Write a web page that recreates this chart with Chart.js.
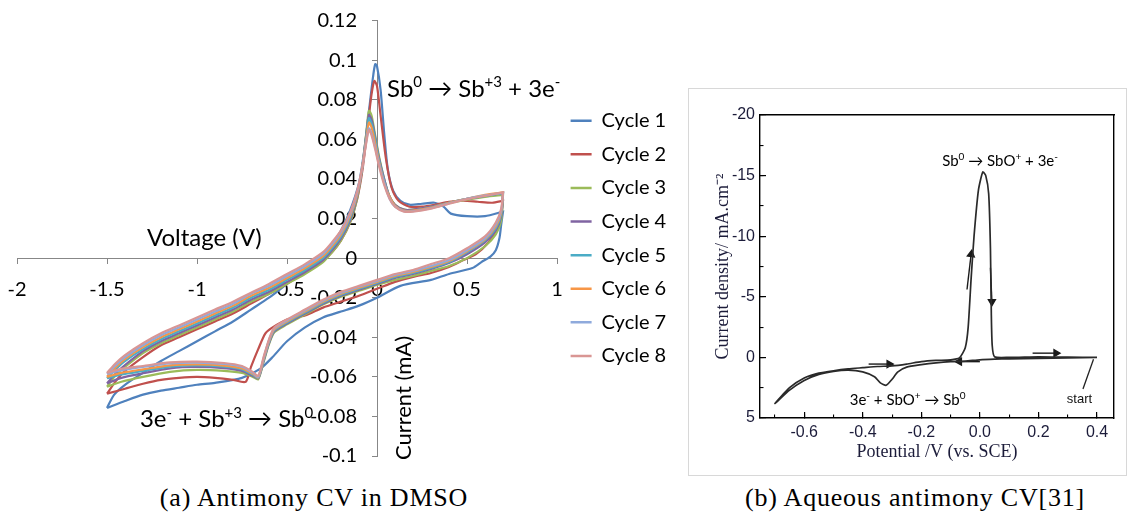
<!DOCTYPE html>
<html><head><meta charset="utf-8">
<script src="https://cdn.jsdelivr.net/npm/chart.js@4.4.1/dist/chart.umd.min.js"></script>
<style>
html,body{margin:0;padding:0;background:#fff;width:1128px;height:512px;overflow:hidden;position:relative}
#wa{position:absolute;left:0;top:0;width:680px;height:480px}
#wb{position:absolute;left:690px;top:90px;width:437px;height:384px}
#frameB{position:absolute;left:688px;top:88px;width:439px;height:388px;border:1px solid #d8d8d8;box-sizing:border-box}
.cap{position:absolute;top:483px;font-family:"Liberation Serif",serif;font-size:26px;letter-spacing:0.8px;color:#000;white-space:nowrap;transform:translateX(-50%)}
</style></head>
<body>
<div id="frameB"></div>
<div id="wa"><canvas id="ca"></canvas></div>
<div id="wb"><canvas id="cb"></canvas></div>
<div class="cap" style="left:314px">(a) Antimony CV in DMSO</div>
<div class="cap" style="left:915px">(b) Aqueous antimony CV[31]</div>
<script>
// ---------- Panel (a): Antimony CV in DMSO ----------
const cycleLabels = ['Cycle 1','Cycle 2','Cycle 3','Cycle 4','Cycle 5','Cycle 6','Cycle 7','Cycle 8'];
const cycleColors = ['#4F81BD','#C0504D','#9BBB59','#8064A2','#4BACC6','#F79646','#8FAADC','#D99694'];

// Cycle 1 voltage (V) / current (mA)
const cycle1V = [-1.50,-1.46,-1.40,-1.30,-1.20,-1.10,-1.00,-0.90,-0.80,-0.70,-0.60,-0.50,-0.40,-0.30,-0.25,-0.20,-0.15,-0.10,-0.07,-0.04,-0.02,-0.01,0.00,0.02,0.04,0.06,0.09,0.13,0.18,0.25,0.32,0.37,0.41,0.50,0.60,0.70,
  0.70,0.69,0.68,0.66,0.63,0.58,0.53,0.40,0.30,0.13,0.00,-0.10,-0.20,-0.30,-0.40,-0.50,-0.58,-0.65,-0.75,-0.90,-1.00,-1.10,-1.20,-1.30,-1.40,-1.50];
const cycle1I = [-0.0757,-0.069,-0.064,-0.058,-0.052,-0.047,-0.042,-0.037,-0.032,-0.026,-0.020,-0.013,-0.006,0.002,0.007,0.014,0.024,0.038,0.055,0.078,0.093,0.098,0.097,0.085,0.063,0.045,0.034,0.029,0.027,0.0275,0.028,0.026,0.0225,0.0212,0.0212,0.0235,
  0.0235,0.017,0.010,0.004,0.0008,-0.002,-0.005,-0.008,-0.011,-0.014,-0.020,-0.024,-0.027,-0.030,-0.035,-0.042,-0.050,-0.056,-0.0605,-0.063,-0.064,-0.0655,-0.067,-0.069,-0.0722,-0.0757];

// Cycle 2
const cycle2V = [-1.50,-1.45,-1.40,-1.30,-1.20,-1.10,-1.00,-0.90,-0.80,-0.70,-0.60,-0.50,-0.40,-0.30,-0.25,-0.20,-0.15,-0.11,-0.08,-0.05,-0.03,-0.015,0.00,0.02,0.05,0.08,0.12,0.18,0.25,0.32,0.40,0.48,0.56,0.64,0.70,
  0.70,0.69,0.66,0.62,0.55,0.48,0.40,0.30,0.20,0.10,0.00,-0.10,-0.20,-0.30,-0.40,-0.50,-0.58,-0.62,-0.66,-0.70,-0.73,-0.80,-0.90,-1.00,-1.10,-1.20,-1.30,-1.40,-1.50];
const cycle2I = [-0.0685,-0.062,-0.057,-0.050,-0.044,-0.040,-0.036,-0.032,-0.028,-0.023,-0.018,-0.013,-0.007,-0.001,0.003,0.009,0.018,0.030,0.045,0.068,0.083,0.0895,0.087,0.072,0.050,0.036,0.029,0.026,0.026,0.027,0.0285,0.029,0.0285,0.028,0.029,
  0.029,0.022,0.014,0.008,0.002,-0.001,-0.0045,-0.0075,-0.0095,-0.012,-0.0155,-0.019,-0.022,-0.025,-0.029,-0.031,-0.035,-0.038,-0.046,-0.055,-0.0625,-0.0615,-0.0605,-0.0600,-0.0605,-0.0615,-0.0635,-0.066,-0.0685];

// Cycles 3-8 share one voltage sweep
const scanV = [-1.50,-1.45,-1.40,-1.30,-1.20,-1.10,-1.00,-0.90,-0.80,-0.70,-0.60,-0.50,-0.40,-0.30,-0.25,-0.20,-0.15,-0.11,-0.08,-0.06,-0.045,-0.03,-0.01,0.01,0.04,0.07,0.10,0.15,0.20,0.30,0.40,0.50,0.60,0.70,
  0.70,0.69,0.66,0.60,0.50,0.40,0.30,0.20,0.10,0.00,-0.10,-0.20,-0.30,-0.40,-0.50,-0.57,-0.60,-0.63,-0.66,-0.69,-0.75,-0.85,-1.00,-1.15,-1.30,-1.42,-1.50];
const cycle3I = [-0.0650,-0.059,-0.055,-0.048,-0.043,-0.039,-0.035,-0.031,-0.027,-0.022,-0.018,-0.013,-0.008,-0.002,0.003,0.009,0.018,0.030,0.047,0.063,0.0745,0.072,0.062,0.052,0.040,0.031,0.027,0.0245,0.0245,0.026,0.028,0.0295,0.031,0.032,
  0.032,0.019,0.012,0.006,0.000,-0.004,-0.0065,-0.009,-0.011,-0.0135,-0.0165,-0.0195,-0.0235,-0.0285,-0.0335,-0.0375,-0.0435,-0.0525,-0.0612,-0.0600,-0.0580,-0.0570,-0.0565,-0.0575,-0.0600,-0.0625,-0.0650];
const cycle4I = [-0.0633,-0.058,-0.054,-0.047,-0.042,-0.038,-0.034,-0.030,-0.026,-0.021,-0.017,-0.012,-0.007,-0.001,0.004,0.010,0.019,0.031,0.047,0.062,0.0724,0.070,0.061,0.051,0.040,0.031,0.027,0.0245,0.0245,0.026,0.028,0.030,0.0315,0.0328,
  0.0328,0.021,0.014,0.008,0.002,-0.0025,-0.0055,-0.008,-0.010,-0.013,-0.016,-0.019,-0.023,-0.028,-0.033,-0.037,-0.043,-0.052,-0.0608,-0.0595,-0.0570,-0.0556,-0.0550,-0.0557,-0.0582,-0.0605,-0.0633];
const cycle5I = [-0.0607,-0.056,-0.052,-0.046,-0.041,-0.037,-0.033,-0.029,-0.025,-0.020,-0.016,-0.011,-0.006,0.000,0.005,0.011,0.020,0.032,0.047,0.061,0.0707,0.068,0.060,0.050,0.039,0.031,0.0265,0.024,0.024,0.0255,0.028,0.030,0.0315,0.033,
  0.033,0.022,0.015,0.009,0.003,-0.002,-0.005,-0.0075,-0.0095,-0.0125,-0.0155,-0.0185,-0.0225,-0.0275,-0.0325,-0.0365,-0.0425,-0.0515,-0.0605,-0.0590,-0.0562,-0.0548,-0.0542,-0.0548,-0.0570,-0.0588,-0.0607];
const cycle6I = [-0.0600,-0.055,-0.051,-0.045,-0.040,-0.036,-0.032,-0.028,-0.024,-0.019,-0.015,-0.010,-0.005,0.001,0.006,0.012,0.021,0.032,0.047,0.060,0.0685,0.066,0.058,0.049,0.038,0.031,0.0265,0.024,0.024,0.0255,0.028,0.030,0.032,0.0332,
  0.0332,0.023,0.016,0.0095,0.0035,-0.0015,-0.0045,-0.007,-0.009,-0.012,-0.015,-0.018,-0.022,-0.027,-0.032,-0.036,-0.042,-0.051,-0.0603,-0.0585,-0.0558,-0.0543,-0.0537,-0.0542,-0.0562,-0.0580,-0.0600];
const cycle7I = [-0.0585,-0.054,-0.050,-0.044,-0.039,-0.035,-0.031,-0.027,-0.023,-0.018,-0.014,-0.009,-0.004,0.002,0.007,0.013,0.022,0.033,0.047,0.059,0.0656,0.063,0.056,0.048,0.038,0.030,0.026,0.0237,0.0237,0.0252,0.0277,0.0300,0.0317,0.0330,
  0.0330,0.024,0.017,0.010,0.004,-0.001,-0.004,-0.0065,-0.0085,-0.0115,-0.0145,-0.0175,-0.0215,-0.0265,-0.0315,-0.0355,-0.0415,-0.0505,-0.0600,-0.0580,-0.0550,-0.0535,-0.0528,-0.0532,-0.0550,-0.0567,-0.0585];
const cycle8I = [-0.058,-0.053,-0.049,-0.043,-0.038,-0.034,-0.030,-0.026,-0.022,-0.0175,-0.013,-0.008,-0.003,0.003,0.008,0.014,0.023,0.034,0.047,0.058,0.0648,0.062,0.055,0.047,0.037,0.030,0.026,0.0235,0.0235,0.0250,0.0275,0.0298,0.0315,0.0332,
  0.0332,0.025,0.018,0.011,0.005,0.000,-0.003,-0.006,-0.008,-0.011,-0.014,-0.017,-0.021,-0.026,-0.031,-0.035,-0.041,-0.050,-0.0595,-0.0575,-0.0545,-0.0530,-0.0523,-0.0527,-0.0545,-0.0560,-0.0580];

const cycleV = [cycle1V, cycle2V, scanV, scanV, scanV, scanV, scanV, scanV];
const cycleI = [cycle1I, cycle2I, cycle3I, cycle4I, cycle5I, cycle6I, cycle7I, cycle8I];

// ---------- Panel (b): aqueous antimony CV ----------
const aqV = [0.40,0.30,0.20,0.10,0.05,0.00,-0.05,-0.10,-0.15,-0.20,-0.25,-0.28,-0.30,-0.32,-0.34,-0.36,-0.40,-0.45,-0.50,-0.55,-0.60,-0.65,-0.70,
  -0.65,-0.60,-0.55,-0.50,-0.45,-0.40,-0.35,-0.30,-0.25,-0.20,-0.15,-0.10,-0.07,-0.05,-0.04,-0.03,-0.02,-0.005,0.01,0.02,0.03,0.036,0.039,0.042,0.05,0.10,0.20,0.30,0.40];
const aqJ = [0.00,0.05,0.08,0.12,0.15,0.20,0.30,0.35,0.45,0.60,0.80,1.20,1.80,2.30,2.10,1.60,1.20,1.05,1.15,1.40,1.90,2.70,3.80,
  2.50,1.70,1.30,1.10,0.95,0.85,0.75,0.70,0.55,0.35,0.25,0.20,0.05,-0.80,-2.50,-6.50,-10.00,-13.80,-15.30,-15.00,-13.50,-9.00,-3.60,-1.00,-0.05,0.00,-0.05,-0.02,0.00];
const aqArrowFrom = [[0.18,-0.35],[-0.38,0.55],[0.00,0.35],[-0.044,-5.6],[0.036,-7.4]];
const aqArrowTo   = [[0.26,-0.35],[-0.31,0.55],[-0.07,0.35],[-0.030,-8.5],[0.041,-4.6]];
const aqArrowRot  = [90, 90, 270, 8, 180];
const startLeaderV = [0.352, 0.388];
const startLeaderJ = [2.6, 0.15];

Chart.defaults.font.family = 'Lato';
Chart.defaults.animation = false;

function drawRich(ctx, parts, x, y, o) {
  ctx.save();
  ctx.translate(x, y);
  if (o.rotate) ctx.rotate(o.rotate);
  const bf = o.size + 'px ' + o.family;
  const sf = Math.round(o.size * 0.64) + 'px ' + o.family;
  const segs = parts.map(p => { ctx.font = p.sup ? sf : bf; return {t: p.t, sup: p.sup, w: ctx.measureText(p.t).width}; });
  const total = segs.reduce((s, p) => s + p.w, 0);
  let cx = o.align === 'center' ? -total / 2 : 0;
  ctx.fillStyle = o.color || '#000';
  ctx.textAlign = 'left';
  ctx.textBaseline = 'alphabetic';
  const base = o.size * 0.36;
  segs.forEach(p => { ctx.font = p.sup ? sf : bf; ctx.fillText(p.t, cx, base - (p.sup ? o.size * 0.38 : 0)); cx += p.w; });
  ctx.restore();
}

const notesA = [
  {parts: [{t: 'Sb'}, {t: '0', sup: 1}, {t: ' \u2192 Sb'}, {t: '+3', sup: 1}, {t: ' + 3e'}, {t: '-', sup: 1}], at: [0.056, 0.086], align: 'left', size: 24},
  {parts: [{t: '3e'}, {t: '-', sup: 1}, {t: ' + Sb'}, {t: '+3', sup: 1}, {t: ' \u2192 Sb'}, {t: '0', sup: 1}], at: [-1.317, -0.0808], align: 'left', size: 24},
  {parts: [{t: 'Voltage (V)'}], at: [-1.278, 0.0107], align: 'left', size: 24},
  {parts: [{t: 'Current (mA)'}], at: [0.144, -0.0707], align: 'center', size: 22, rotate: -Math.PI / 2}
];
const notesB = [
  {parts: [{t: 'Sb'}, {t: '0', sup: 1}, {t: ' \u2192 SbO'}, {t: '+', sup: 1}, {t: ' + 3e'}, {t: '-', sup: 1}], at: [0.069, -16.25], align: 'center', size: 15, family: 'Lato'},
  {parts: [{t: '3e'}, {t: '-', sup: 1}, {t: ' + SbO'}, {t: '+', sup: 1}, {t: ' \u2192 Sb'}, {t: '0', sup: 1}], at: [-0.247, 3.47], align: 'center', size: 15, family: 'Lato'},
  {parts: [{t: 'start'}], at: [0.34, 3.4], align: 'center', size: 13, family: '"Liberation Sans Narrow","Liberation Sans"', color: '#111'}
];

function notesPlugin(notes) {
  return {
    id: 'notes',
    afterDatasetsDraw(chart) {
      const {ctx, scales} = chart;
      notes.forEach(n => drawRich(ctx, n.parts, scales.x.getPixelForValue(n.at[0]), scales.y.getPixelForValue(n.at[1]),
        {size: n.size, family: n.family || 'Lato', align: n.align, rotate: n.rotate, color: n.color}));
    }
  };
}

const dsA = cycleLabels.map((lab, i) => ({
  label: lab,
  data: cycleV[i].map((v, j) => ({x: v, y: cycleI[i][j]})),
  borderColor: cycleColors[i],
  backgroundColor: cycleColors[i],
  borderWidth: 2.2,
  pointRadius: 0,
  tension: 0.25,
  fill: false,
  order: 7 - i
}));

// legend geometry -> right padding so that the plot area ends at the "1" tick
const legendFont = 20, legendPad = 13.6, legendBox = 21;
const mctx = document.createElement('canvas').getContext('2d');
mctx.font = legendFont + 'px Lato';
const legendTextW = Math.max(...cycleLabels.map(l => mctx.measureText(l).width));
const legendW = legendPad + legendBox + legendFont / 2 + legendTextW + 10;
const plotRightA = 557, canvasWA = 680;
const padRightA = canvasWA - plotRightA - legendW;

const axisGray = '#878787';
new Chart(document.getElementById('ca'), {
  type: 'line',
  data: {datasets: dsA},
  options: {
    responsive: true, maintainAspectRatio: false,
    layout: {padding: {left: 17, top: 20.7, bottom: 24, right: padRightA}},
    plugins: {
      tooltip: {enabled: false},
      legend: {
        position: 'right',
        labels: {
          boxWidth: legendBox, boxHeight: 2.5, padding: legendPad, color: '#000',
          font: {family: 'Lato', size: legendFont},
          sort: (a, b) => a.datasetIndex - b.datasetIndex,
          generateLabels: ch => Chart.defaults.plugins.legend.labels.generateLabels(ch).map(l => Object.assign(l, {lineWidth: 0}))
        }
      }
    },
    scales: {
      x: {
        type: 'linear', position: {y: 0}, min: -2, max: 1,
        afterFit: s => { s.height = 0; s.paddingLeft = 0; s.paddingRight = 0; },
        ticks: {stepSize: 0.5, padding: 14, color: '#000', font: {family: 'Lato', size: 20}, maxRotation: 0,
          callback: v => String(Math.round(v * 10) / 10)},
        grid: {drawOnChartArea: false, drawTicks: true, tickLength: 5, color: axisGray},
        border: {color: axisGray, width: 1}
      },
      y: {
        type: 'linear', position: {x: 0}, min: -0.1, max: 0.12,
        afterFit: s => { s.width = 0; s.paddingTop = 0; s.paddingBottom = 0; },
        ticks: {stepSize: 0.02, padding: 0, color: '#000', font: {family: 'Lato', size: 20},
          callback: v => String(Math.round(v * 100) / 100) + '\u2002\u2002'},
        grid: {drawOnChartArea: false, drawTicks: true, tickLength: 5, color: axisGray},
        border: {color: axisGray, width: 1}
      }
    }
  },
  plugins: [notesPlugin(notesA)]
});

// ---------- Panel (b) chart ----------
const inkB = '#1c1c3a';
const dsB = [{
  label: 'CV', data: aqV.map((v, j) => ({x: v, y: aqJ[j]})),
  borderColor: '#2a2a2a', borderWidth: 1.7, pointRadius: 0, tension: 0.2, fill: false
}];
aqArrowFrom.forEach((f, k) => {
  dsB.push({
    label: 'arrow' + k,
    data: [{x: f[0], y: f[1]}, {x: aqArrowTo[k][0], y: aqArrowTo[k][1]}],
    borderColor: '#1a1a1a', backgroundColor: '#1a1a1a', borderWidth: 1.4,
    pointRadius: [0, 4], pointStyle: 'triangle', pointRotation: aqArrowRot[k], tension: 0
  });
});
dsB.push({
  label: 'start', data: startLeaderV.map((v, j) => ({x: v, y: startLeaderJ[j]})),
  borderColor: '#222', borderWidth: 1.3, pointRadius: 0, tension: 0
});

const xMinB = -0.751, xMaxB = 0.458;
new Chart(document.getElementById('cb'), {
  type: 'line',
  data: {datasets: dsB},
  options: {
    responsive: true, maintainAspectRatio: false,
    layout: {padding: 0},
    plugins: {legend: {display: false}, tooltip: {enabled: false}},
    scales: {
      x: {
        type: 'linear', position: 'bottom', min: xMinB, max: xMaxB, weight: 1,
        afterFit: s => { s.height = 56; },
        ticks: {stepSize: 0.2, includeBounds: false, padding: 11, color: inkB, font: {family: 'Liberation Sans', size: 16}, maxRotation: 0,
          callback: v => (Math.abs(v) < 1e-9 ? 0 : v).toFixed(1)},
        grid: {drawOnChartArea: false, tickLength: -6, color: '#000', lineWidth: 1.2},
        border: {color: '#000', width: 1.4},
        title: {display: true, text: 'Potential /V (vs. SCE)', color: inkB, font: {family: 'Liberation Serif', size: 18}, padding: {top: 0, bottom: 11}}
      },
      xm: {
        type: 'linear', position: 'bottom', min: xMinB, max: xMaxB, weight: 0,
        afterFit: s => { s.height = 0; },
        ticks: {display: false, stepSize: 0.1, includeBounds: false},
        grid: {drawOnChartArea: false, tickLength: -3.5, color: '#000', lineWidth: 1.1},
        border: {display: false}
      },
      xt: {
        type: 'linear', position: 'top', min: xMinB, max: xMaxB,
        afterFit: s => { s.height = 25; },
        ticks: {display: false}, grid: {display: false, drawOnChartArea: false, drawTicks: false},
        border: {display: true, color: '#000', width: 1.4}
      },
      y: {
        type: 'linear', position: 'left', min: -20, max: 5, reverse: true, weight: 1,
        afterFit: s => { s.width = 70; },
        ticks: {stepSize: 5, padding: 11, color: inkB, font: {family: 'Liberation Sans', size: 16},
          callback: v => String(v)},
        grid: {drawOnChartArea: false, tickLength: -6, color: '#000', lineWidth: 1.2},
        border: {color: '#000', width: 1.4},
        title: {display: true, text: 'Current density/ mA.cm\u207B\u00B2', color: inkB, font: {family: 'Liberation Serif', size: 18}, padding: {top: 22, bottom: 0}}
      },
      ym: {
        type: 'linear', position: 'left', min: -20, max: 5, reverse: true, weight: 0,
        afterFit: s => { s.width = 0; },
        ticks: {display: false, stepSize: 2.5},
        grid: {drawOnChartArea: false, tickLength: -3.5, color: '#000', lineWidth: 1.1},
        border: {display: false}
      },
      yr: {
        type: 'linear', position: 'right', min: -20, max: 5,
        afterFit: s => { s.width = 13; },
        ticks: {display: false}, grid: {display: false, drawOnChartArea: false, drawTicks: false},
        border: {display: true, color: '#000', width: 1.4}
      }
    }
  },
  plugins: [notesPlugin(notesB)]
});
</script>
</body></html>
